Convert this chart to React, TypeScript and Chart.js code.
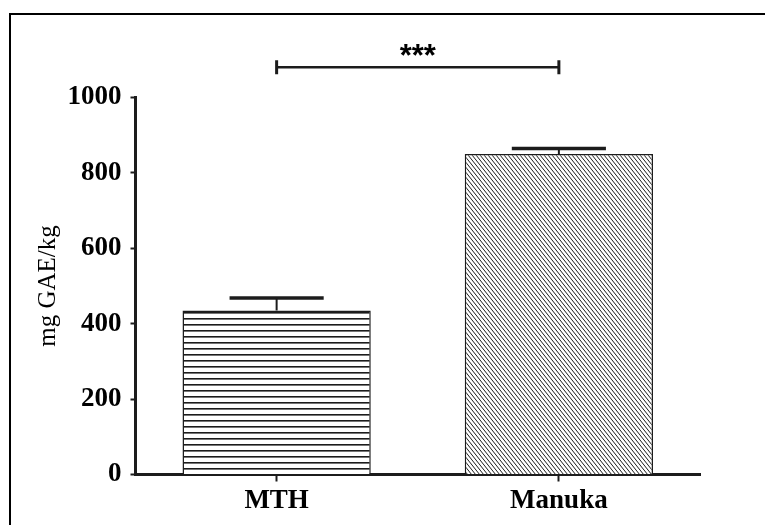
import React, { useEffect, useRef } from "react";
import { Chart, registerables } from "chart.js";

Chart.register(...registerables);

const categories = ["MTH", "Manuka"];
const means = [435, 850];
const sems = [33, 15];
const yTickValues = [0, 200, 400, 600, 800, 1000];
const yTitle = "mg GAE/kg";
const sigLabel = "***";
const sigLevel = 1080;

const INK = "#1c1c1c";
const SERIF = "'Liberation Serif', 'Times New Roman', serif";

function makeHorizontalPattern(): CanvasPattern | string {
  const c = document.createElement("canvas");
  c.width = 8;
  c.height = 6;
  const g = c.getContext("2d");
  if (!g) return "#fff";
  g.fillStyle = "#ffffff";
  g.fillRect(0, 0, 8, 6);
  g.fillStyle = INK;
  g.fillRect(0, 0, 8, 1.6);
  return g.createPattern(c, "repeat") || "#fff";
}

function makeDiagonalPattern(): CanvasPattern | string {
  const W = 4;
  const H = 5;
  const c = document.createElement("canvas");
  c.width = W;
  c.height = H;
  const g = c.getContext("2d");
  if (!g) return "#fff";
  g.fillStyle = "#ffffff";
  g.fillRect(0, 0, W, H);
  g.strokeStyle = INK;
  g.lineWidth = 1.0;
  for (let k = -1; k <= 1; k++) {
    g.beginPath();
    g.moveTo(k * W - W, -H);
    g.lineTo(k * W + 2 * W, 2 * H);
    g.stroke();
  }
  return g.createPattern(c, "repeat") || "#fff";
}

const framePlugin = {
  id: "frame",
  beforeDraw(chart: any) {
    const ctx = chart.ctx;
    ctx.save();
    ctx.fillStyle = "#000";
    ctx.fillRect(9, 13, 2, chart.height);
    ctx.fillRect(9, 13, chart.width, 2);
    ctx.restore();
  },
};

const errorBarPlugin = {
  id: "errorBars",
  afterDatasetsDraw(chart: any) {
    const ctx = chart.ctx;
    const yScale = chart.scales.y;
    const meta = chart.getDatasetMeta(0);
    ctx.save();
    ctx.strokeStyle = INK;
    meta.data.forEach((bar: any, i: number) => {
      const x = bar.x;
      const yTop = yScale.getPixelForValue(means[i]);
      const yErr = yScale.getPixelForValue(means[i] + sems[i]);
      const half = bar.width / 4;
      ctx.lineWidth = 2;
      ctx.beginPath();
      ctx.moveTo(x, yTop);
      ctx.lineTo(x, yErr);
      ctx.stroke();
      ctx.lineWidth = 3.5;
      ctx.beginPath();
      ctx.moveTo(x - half, yErr);
      ctx.lineTo(x + half, yErr);
      ctx.stroke();
    });
    ctx.restore();
  },
};

const sigPlugin = {
  id: "significance",
  afterDraw(chart: any) {
    const ctx = chart.ctx;
    const xs = chart.scales.x;
    const ys = chart.scales.y;
    const x0 = xs.getPixelForValue(0);
    const x1 = xs.getPixelForValue(1);
    const y = ys.getPixelForValue(sigLevel);
    ctx.save();
    ctx.strokeStyle = INK;
    ctx.lineWidth = 2.5;
    ctx.beginPath();
    ctx.moveTo(x0, y);
    ctx.lineTo(x1, y);
    ctx.stroke();
    ctx.lineWidth = 3;
    ctx.beginPath();
    ctx.moveTo(x0, y - 7);
    ctx.lineTo(x0, y + 7);
    ctx.moveTo(x1, y - 7);
    ctx.lineTo(x1, y + 7);
    ctx.stroke();
    ctx.fillStyle = "#000";
    ctx.font = "bold 31px 'Liberation Sans', Arial, sans-serif";
    ctx.textAlign = "center";
    ctx.textBaseline = "alphabetic";
    ctx.fillText(sigLabel, (x0 + x1) / 2, y - 1);
    ctx.restore();
  },
};

export default function App() {
  const ref = useRef<HTMLCanvasElement | null>(null);

  useEffect(() => {
    if (!ref.current) return;
    const hPat = makeHorizontalPattern();
    const dPat = makeDiagonalPattern();
    const chart = new Chart(ref.current, {
      type: "bar",
      data: {
        labels: categories,
        datasets: [
          {
            data: means,
            backgroundColor: [hPat, dPat] as any,
            borderColor: INK,
            borderWidth: 1.5,
            barPercentage: 0.667,
            categoryPercentage: 1,
          },
        ],
      },
      options: {
        responsive: false,
        animation: false,
        devicePixelRatio: 1,
        layout: { padding: { left: 29.6, top: 97.5, right: 65, bottom: 0 } },
        plugins: {
          legend: { display: false },
          tooltip: { enabled: false },
        },
        scales: {
          x: {
            offset: true,
            grid: {
              display: true,
              drawOnChartArea: false,
              drawTicks: true,
              tickLength: 7,
              tickWidth: 2,
              tickColor: INK,
              offset: false,
            },
            border: { display: true, width: 3, color: INK },
            ticks: {
              color: "#000",
              padding: 3,
              font: { family: SERIF, size: 27, weight: "bold" },
            },
            afterFit: (scale: any) => {
              scale.height = 50.5;
            },
          },
          y: {
            min: 0,
            max: 1000,
            afterBuildTicks: (scale: any) => {
              scale.ticks = yTickValues.map((v) => ({ value: v }));
            },
            grid: {
              display: true,
              drawOnChartArea: false,
              drawTicks: true,
              tickLength: 5,
              tickWidth: 2,
              tickColor: INK,
            },
            border: { display: true, width: 3, color: INK },
            ticks: {
              color: "#000",
              padding: 9,
              callback: (v: any) => String(v),
              font: { family: SERIF, size: 27, weight: "bold" },
            },
            title: {
              display: true,
              text: yTitle,
              color: "#000",
              padding: { top: 4, bottom: 4 },
              font: { family: SERIF, size: 25, weight: "normal" },
            },
            afterFit: (scale: any) => {
              scale.width = 135.5 - 29.6;
            },
          },
        },
      },
      plugins: [framePlugin, errorBarPlugin, sigPlugin],
    });
    return () => chart.destroy();
  }, []);

  return (
    <div style={{ position: "fixed", left: 0, top: 0, width: 765, height: 525, background: "#fff" }}>
      <canvas ref={ref} width={765} height={525} style={{ display: "block", width: 765, height: 525 }} />
    </div>
  );
}
